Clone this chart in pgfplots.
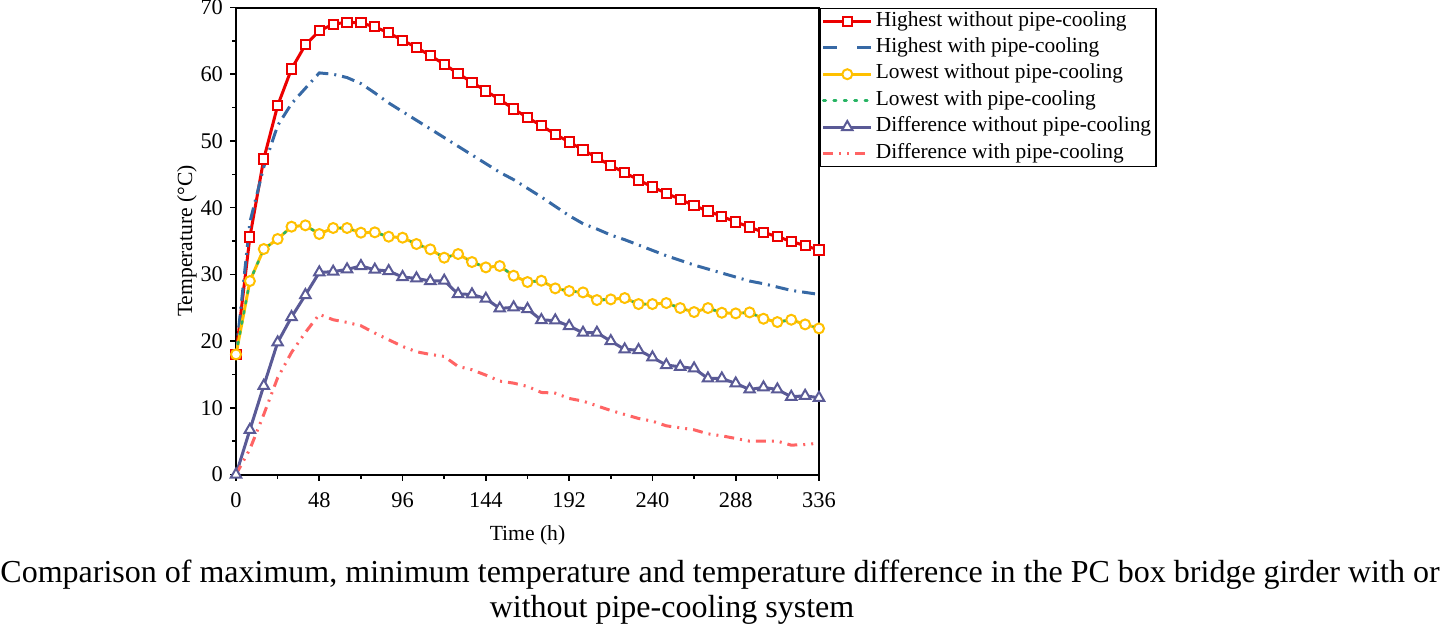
\documentclass[border=0pt]{standalone}
\usepackage{fontspec}
\setmainfont{Liberation Serif}
\usepackage{pgfplots}
\usepackage{pgfplotstable}
\pgfplotsset{compat=1.18}
\definecolor{cRed}{RGB}{236,0,0}
\definecolor{cBlue}{RGB}{55,105,165}
\definecolor{cGold}{RGB}{255,192,0}
\definecolor{cGreen}{RGB}{40,180,100}
\definecolor{cPurple}{RGB}{90,90,150}
\definecolor{cPink}{RGB}{255,100,100}
\pgfplotstableread{
t hw hp lw lp dw dp
0 18.0 18.0 18.0 18.0 0 0
8 35.6 37.8 29.0 29.0 6.7 3.8
16 47.3 46.1 33.8 33.8 13.3 9.0
24 55.3 52.3 35.3 35.3 19.8 14.5
32 60.8 55.6 37.15 37.15 23.6 18.3
40 64.4 57.9 37.35 37.35 26.9 21.3
48 66.5 60.2 36.05 36.05 30.3 24.0
56 67.5 60.0 36.95 36.95 30.4 23.2
64 67.8 59.5 36.95 36.95 30.75 22.8
72 67.7 58.6 36.25 36.25 31.25 22.3
80 67.1 57.2 36.3 36.3 30.7 21.2
88 66.2 55.7 35.65 35.65 30.5 20.2
96 65.1 54.4 35.5 35.5 29.6 19.2
104 64.0 53.1 34.55 34.55 29.4 18.4
112 62.8 51.8 33.75 33.75 29.0 18.0
120 61.5 50.5 32.5 32.5 29.05 17.7
128 60.1 49.2 33.05 33.05 27.05 16.2
136 58.8 47.9 31.85 31.85 27.0 15.7
144 57.5 46.6 31.05 31.05 26.35 14.9
152 56.2 45.3 31.25 31.25 24.9 14.0
160 54.8 44.2 29.8 29.8 25.05 13.7
168 53.5 42.9 28.85 28.85 24.8 13.2
176 52.3 41.6 29.05 29.05 23.15 12.3
184 51.0 40.2 27.9 27.9 23.1 12.2
192 49.85 38.8 27.5 27.5 22.25 11.4
200 48.65 37.6 27.3 27.3 21.25 11.0
208 47.5 36.8 26.15 26.15 21.25 10.3
216 46.3 35.9 26.25 26.25 20.0 9.6
224 45.25 35.2 26.45 26.45 18.75 9.0
232 44.15 34.4 25.55 25.55 18.65 8.4
240 43.1 33.6 25.55 25.55 17.55 8.0
248 42.15 32.8 25.7 25.7 16.4 7.3
256 41.25 32.1 24.95 24.95 16.15 7.0
264 40.3 31.4 24.35 24.35 15.9 6.7
272 39.5 30.8 24.95 24.95 14.4 6.1
280 38.7 30.2 24.25 24.25 14.4 5.8
288 37.85 29.6 24.15 24.15 13.65 5.4
296 37.1 29.0 24.3 24.3 12.75 5.0
304 36.3 28.6 23.35 23.35 13.05 5.0
312 35.65 28.1 22.85 22.85 12.75 5.0
320 34.95 27.6 23.2 23.2 11.65 4.4
328 34.3 27.3 22.5 22.5 11.8 4.5
336 33.65 27.0 21.9 21.9 11.5 4.7
}\data
\begin{document}
\begin{tikzpicture}
\useasboundingbox (0,0) rectangle (720pt,-314pt);
\begin{axis}[
  at={(118pt,-237.25pt)}, anchor=south west,
  width=291.5pt, height=233.5pt, scale only axis,
  xmin=0, xmax=336, ymin=0, ymax=70,
  xtick={0,48,...,336}, ytick={0,10,...,70},
  minor x tick num=1, minor y tick num=1,
  tick pos=left, tick align=outside,
  major tick length=3pt, minor tick length=2pt,
  axis line style={line width=1pt},
  every tick/.style={black, line width=0.8pt},
  /pgf/number format/assume math mode=true,
  ticklabel style={font=\fontsize{11.2}{13}\selectfont},
  xticklabel style={yshift=-2.5pt},
  label style={font=\fontsize{10.8}{13}\selectfont},
  xlabel={Time (h)}, ylabel={Temperature (°C)},
  xlabel style={at={(axis description cs:0.5,-0.1296)}, anchor=center},
  ylabel style={at={(axis description cs:-0.084,0.5)}, anchor=center},
  legend style={at={(axis description cs:1,1)}, anchor=north west,
    draw=black, line width=0.8pt, inner xsep=1pt, inner ysep=0.5pt,
    font=\fontsize{10.7}{13}\selectfont,
    nodes={inner xsep=1.5pt, inner ysep=1.2pt, text height=0.72em, text depth=0.25em},
    legend cell align=left, row sep=1.1pt},
  legend image code/.code={\draw[mark repeat=2,mark phase=2] plot coordinates {(0pt,0pt) (12pt,0pt) (24pt,0pt)};},
]
\addplot[cRed, line width=1.5pt, mark=square*, mark size=2.3pt,
  mark options={fill=white, draw=cRed, line width=1pt, solid}] table[x=t,y=hw] {\data};
\addlegendentry{Highest without pipe-cooling}
\addplot[cBlue, line width=1.5pt, dash pattern=on 6.5pt off 3pt on 1pt off 3pt,
  legend image code/.code={\draw[dash pattern=on 7pt off 10pt] (0pt,0pt) -- (24pt,0pt);}] table[x=t,y=hp] {\data};
\addlegendentry{Highest with pipe-cooling}
\addplot[cGold, line width=1.5pt, mark=*, mark size=2.5pt,
  mark options={fill=white, draw=cGold, line width=1pt, solid}] table[x=t,y=lw] {\data};
\addlegendentry{Lowest without pipe-cooling}
\addplot[cGreen, line width=1.3pt, dash pattern=on 1.2pt off 4pt, line cap=round] table[x=t,y=lp] {\data};
\addlegendentry{Lowest with pipe-cooling}
\addplot[cPurple, line width=1.5pt, mark=triangle*, mark size=3pt,
  mark options={fill=white, draw=cPurple, line width=1pt, solid}] table[x=t,y=dw] {\data};
\addlegendentry{Difference without pipe-cooling}
\addplot[cPink, line width=1.5pt, dash pattern=on 5pt off 3pt on 1pt off 3pt on 1pt off 3pt] table[x=t,y=dp] {\data};
\addlegendentry{Difference with pipe-cooling}
\end{axis}
\node[anchor=base, font=\fontsize{16}{19}\selectfont, inner sep=0pt] at (360pt,-291pt) {Comparison of maximum, minimum temperature and temperature difference in the PC box bridge girder with or};
\node[anchor=base, font=\fontsize{16}{19}\selectfont, inner sep=0pt] at (336pt,-308.5pt) {without pipe-cooling system};
\end{tikzpicture}
\end{document}
